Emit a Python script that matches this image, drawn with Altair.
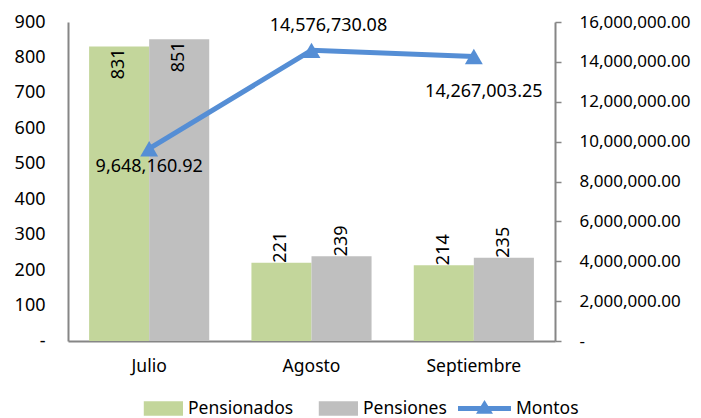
import altair as alt
import pandas as pd

# ---- data ----
meses = ["Julio", "Agosto", "Septiembre"]
pensionados = [831, 221, 214]
pensiones = [851, 239, 235]
montos = [9648160.92, 14576730.08, 14267003.25]
series = ["Pensionados", "Pensiones", "Montos"]
colores = ["#C3D69B", "#BFBFBF", "#558ED5"]
ticks_izq = [0, 100, 200, 300, 400, 500, 600, 700, 800, 900]
ticks_der = [0, 2000000, 4000000, 6000000, 8000000, 10000000, 12000000, 14000000, 16000000]

bars_df = pd.DataFrame({
    "mes": meses * 2,
    "serie": [series[0]] * 3 + [series[1]] * 3,
    "valor": pensionados + pensiones,
})
line_df = pd.DataFrame({"mes": meses, "serie": [series[2]] * 3, "montos": montos})
leg_df = pd.DataFrame({"serie": series})

FONT = "Noto Sans"
GRAY = "#868686"
FS = 18

swatch = "M-0.48,-0.27H1V0.27H-0.48Z"
linesym = "M-1,-0.09H1V0.09H-1Z M-0.32,0.2L0,-0.32L0.32,0.2Z"

color_scale = alt.Scale(domain=series, range=colores)
shape_scale = alt.Scale(domain=series, range=[swatch, swatch, linesym])

legend = alt.Legend(
    title=None, orient="none", legendX=62, legendY=360, direction="horizontal",
    columns=3, symbolSize=2809, symbolStrokeWidth=0, labelFontSize=17.5,
    labelFont=FONT, labelColor="black", labelOffset=5, columnPadding=11,
    symbolOpacity=1,
)

x_enc = alt.X(
    "mes:N", sort=meses,
    scale=alt.Scale(paddingInner=0.26, paddingOuter=0.13),
    axis=alt.Axis(title=None, labelAngle=0, ticks=False, labelPadding=16,
                  domainColor=GRAY, domainWidth=2, labelFontSize=17.5),
)
xoff = alt.XOffset("serie:N", sort=series[:2], scale=alt.Scale(paddingInner=0, paddingOuter=0))

bar_y = alt.Y(
    "valor:Q", scale=alt.Scale(domain=[0, 900]),
    axis=alt.Axis(values=ticks_izq, title=None, ticks=False, grid=False,
                  domainColor=GRAY, domainWidth=2, labelPadding=23,
                  labelOverlap=False, labelFlush=False,
                  labelExpr="datum.value == 0 ? '-' : datum.label"),
)

bars = alt.Chart(bars_df).mark_bar().encode(
    x=x_enc, xOffset=xoff, y=bar_y,
    color=alt.Color("serie:N", scale=color_scale, legend=legend),
)
lab_in = alt.Chart(bars_df).transform_filter("datum.valor > 500").mark_text(
    angle=270, align="right", baseline="middle", dx=-2, fontSize=FS, font=FONT, color="black"
).encode(x=x_enc, xOffset=xoff, y=bar_y, text=alt.Text("valor:Q"))
lab_out = alt.Chart(bars_df).transform_filter("datum.valor <= 500").mark_text(
    angle=270, align="left", baseline="middle", dx=0, fontSize=FS, font=FONT, color="black"
).encode(x=x_enc, xOffset=xoff, y=bar_y, text=alt.Text("valor:Q"))

line_y = alt.Y(
    "montos:Q", scale=alt.Scale(domain=[0, 16000000]),
    axis=alt.Axis(orient="right", values=ticks_der, title=None, grid=False,
                  tickSize=6, tickColor=GRAY, tickWidth=1.5, domainColor=GRAY,
                  domainWidth=2, labelPadding=18, labelOverlap=False, labelFlush=False,
                  labelFontSize=17,
                  labelExpr="datum.value == 0 ? '-' : format(datum.value, ',.2f')"),
)

line = alt.Chart(line_df).mark_line(strokeWidth=5).encode(
    x=x_enc, y=line_y, color=alt.Color("serie:N", scale=color_scale, legend=legend)
)
pts = alt.Chart(line_df).mark_point(shape="triangle-up", filled=True, size=320, opacity=1).encode(
    x=x_enc, y=line_y, color=alt.Color("serie:N", scale=color_scale, legend=legend)
)

def etiqueta(mes, dx, dy):
    return alt.Chart(line_df).transform_filter(f"datum.mes == '{mes}'").mark_text(
        fontSize=FS, font=FONT, color="black", baseline="middle", dx=dx, dy=dy
    ).encode(x=x_enc, y=line_y, text=alt.Text("montos:Q", format=",.2f"))

lab_j = etiqueta(meses[0], 0, 18)
lab_a = etiqueta(meses[1], 17, -24)
lab_s = etiqueta(meses[2], 10, 35)

hidden = alt.Chart(leg_df).transform_filter("false").mark_point(filled=True).encode(
    color=alt.Color("serie:N", scale=color_scale, legend=legend),
    shape=alt.Shape("serie:N", scale=shape_scale, legend=legend),
)

left = alt.layer(bars, lab_in, lab_out)
right = alt.layer(line, pts, lab_j, lab_a, lab_s)

chart = alt.layer(left, right, hidden).resolve_scale(y="independent").properties(
    width=487, height=319,
    autosize=alt.AutoSizeParams(type="none"),
    padding={"left": 60, "top": 14, "right": 138, "bottom": 77},
).configure(font=FONT).configure_view(stroke=None).configure_axis(
    labelFontSize=FS, labelFont=FONT, labelColor="black"
)

chart.save("out.html", embed_options={"renderer": "svg", "actions": False})
